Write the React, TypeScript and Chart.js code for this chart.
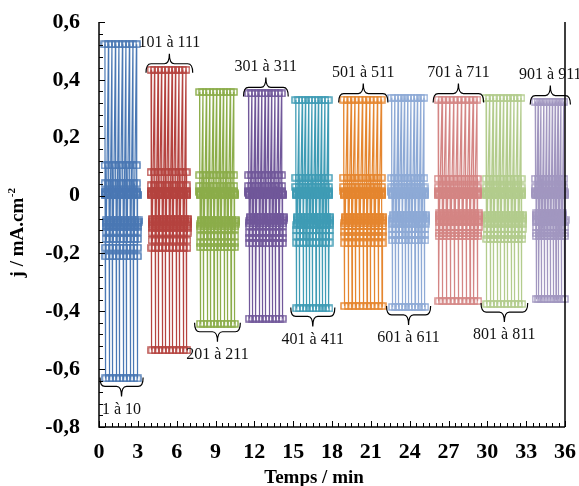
import React, { useEffect, useRef } from 'react';
import { Chart, registerables } from 'chart.js';

Chart.register(...registerables);

// ---- axis ticks ----
const xTickValues = [0, 3, 6, 9, 12, 15, 18, 21, 24, 27, 30, 33, 36];
const yTickLabels = ['-0,8', '-0,6', '-0,4', '-0,2', '0', '0,2', '0,4', '0,6'];
const xTitle = 'Temps / min';
const yTitleMain = 'j / mA.cm';
const yTitleSup = '-2';

// ---- cycle groups ----
const groupNames = ['1 à 10', '101 à 111', '201 à 211', '301 à 311', '401 à 411', '501 à 511', '601 à 611', '701 à 711', '801 à 811', '901 à 911'];
const labelAbove = [false, true, false, true, false, true, false, true, false, true];
const groupColors = ['#4a78b4', '#b5433f', '#8cad4a', '#71589a', '#3f9cb5', '#e5862f', '#8eaad6', '#d48584', '#b3cc8d', '#a297c0'];
const cycleCounts = [10, 11, 11, 11, 11, 11, 11, 11, 11, 11];
const groupStarts = [0.46, 4.02, 7.77, 11.55, 15.2, 18.9, 22.6, 26.2, 29.9, 33.7];
const cyclePeriods = [0.27, 0.27, 0.263, 0.255, 0.25, 0.29, 0.25, 0.3, 0.27, 0.22];

// time of each sample inside one pulse cycle (min)
const sampleOffsets = [0, 0.006, 0.012, 0.02, 0.028, 0.036, 0.044, 0.052, 0.06, 0.066, 0.072, 0.078, 0.084, 0.092, 0.1, 0.108, 0.116, 0.124, 0.132];

// current density (mA.cm-2) of each sample of one cycle, per group
const wave1to10 = [0.523, 0.104, 0.042, 0.015, 0.011, 0.008, 0.005, 0.003, 0.001, -0.632, -0.21, -0.18, -0.15, -0.125, -0.108, -0.1, -0.095, -0.09, -0.086];
const wave101to111 = [0.435, 0.08, 0.035, 0.015, 0.011, 0.008, 0.005, 0.003, 0.001, -0.535, -0.18, -0.155, -0.128, -0.112, -0.104, -0.097, -0.091, -0.086, -0.08];
const wave201to211 = [0.358, 0.07, 0.033, 0.015, 0.011, 0.008, 0.005, 0.003, 0.001, -0.443, -0.178, -0.163, -0.14, -0.115, -0.106, -0.099, -0.093, -0.088, -0.083];
const wave301to311 = [0.353, 0.07, 0.033, 0.015, 0.011, 0.008, 0.005, 0.003, 0.001, -0.425, -0.165, -0.145, -0.128, -0.105, -0.096, -0.089, -0.083, -0.078, -0.073];
const wave401to411 = [0.33, 0.062, 0.03, 0.015, 0.011, 0.008, 0.005, 0.003, 0.001, -0.39, -0.163, -0.14, -0.12, -0.103, -0.095, -0.089, -0.083, -0.078, -0.073];
const wave501to511 = [0.332, 0.062, 0.03, 0.015, 0.011, 0.008, 0.005, 0.003, 0.001, -0.382, -0.165, -0.14, -0.125, -0.105, -0.096, -0.089, -0.083, -0.078, -0.073];
const wave601to611 = [0.338, 0.06, 0.028, 0.015, 0.011, 0.008, 0.005, 0.003, 0.001, -0.385, -0.155, -0.135, -0.115, -0.097, -0.089, -0.082, -0.076, -0.071, -0.066];
const wave701to711 = [0.332, 0.058, 0.028, 0.015, 0.011, 0.008, 0.005, 0.003, 0.001, -0.365, -0.14, -0.13, -0.11, -0.092, -0.084, -0.077, -0.071, -0.066, -0.061];
const wave801to811 = [0.337, 0.058, 0.028, 0.015, 0.011, 0.008, 0.005, 0.003, 0.001, -0.375, -0.15, -0.135, -0.115, -0.097, -0.089, -0.082, -0.076, -0.071, -0.066];
const wave901to911 = [0.325, 0.058, 0.028, 0.015, 0.011, 0.008, 0.005, 0.003, 0.001, -0.358, -0.14, -0.13, -0.11, -0.092, -0.084, -0.077, -0.071, -0.066, -0.061];
const waveforms = [wave1to10, wave101to111, wave201to211, wave301to311, wave401to411, wave501to511, wave601to611, wave701to711, wave801to811, wave901to911];

const FONT = '"Liberation Serif", "Times New Roman", serif';

function buildPoints(g: number) {
  const pts: { x: number; y: number }[] = [];
  for (let c = 0; c < cycleCounts[g]; c++) {
    const t0 = groupStarts[g] + c * cyclePeriods[g];
    waveforms[g].forEach((v, i) => pts.push({ x: t0 + sampleOffsets[i], y: v }));
  }
  return pts;
}

function makeMarker(color: string) {
  const c = document.createElement('canvas');
  c.width = 9;
  c.height = 8;
  const ctx = c.getContext('2d')!;
  ctx.strokeStyle = color;
  ctx.lineWidth = 1.4;
  ctx.strokeRect(1, 1, 7, 6);
  return c;
}

function drawBrace(ctx: CanvasRenderingContext2D, x1: number, x2: number, yb: number, dir: number, h: number) {
  const xm = (x1 + x2) / 2;
  const q = Math.min(5, (x2 - x1) / 4);
  const e = h * 0.9;
  ctx.beginPath();
  ctx.moveTo(x1, yb - dir * e);
  ctx.quadraticCurveTo(x1, yb, x1 + q, yb);
  ctx.lineTo(xm - q, yb);
  ctx.quadraticCurveTo(xm, yb, xm, yb + dir * h);
  ctx.quadraticCurveTo(xm, yb, xm + q, yb);
  ctx.lineTo(x2 - q, yb);
  ctx.quadraticCurveTo(x2, yb, x2, yb - dir * e);
  ctx.stroke();
}

const overlayPlugin = {
  id: 'overlay',
  afterDraw(chart: any) {
    const { ctx, chartArea: a } = chart;
    const xs = chart.scales.x;
    const ys = chart.scales.y;
    ctx.save();
    // axes frame
    ctx.strokeStyle = '#000';
    ctx.lineWidth = 1.5;
    ctx.beginPath();
    ctx.moveTo(a.left, a.top);
    ctx.lineTo(a.left, a.bottom);
    ctx.lineTo(a.right, a.bottom);
    ctx.moveTo(a.right, a.top);
    ctx.lineTo(a.right, a.bottom);
    ctx.stroke();
    // inner ticks
    ctx.lineWidth = 1;
    ctx.beginPath();
    for (let i = 0; i <= 35; i++) {
      const py = Math.round(ys.getPixelForValue(-0.8 + i * 0.04)) + 0.5;
      const len = i % 5 === 0 ? 6 : 4;
      ctx.moveTo(a.left, py);
      ctx.lineTo(a.left + len, py);
    }
    for (let i = 0; i <= 72; i++) {
      const px = Math.round(xs.getPixelForValue(i * 0.5)) + 0.5;
      const len = i % 6 === 0 ? 6 : 4;
      ctx.moveTo(px, a.bottom);
      ctx.lineTo(px, a.bottom - len);
    }
    ctx.stroke();

    // braces and group labels
    ctx.lineWidth = 1.2;
    ctx.fillStyle = '#111';
    ctx.font = `16px ${FONT}`;
    ctx.textAlign = 'center';
    ctx.textBaseline = 'middle';
    groupNames.forEach((name, g) => {
      const first = groupStarts[g];
      const last = groupStarts[g] + (cycleCounts[g] - 1) * cyclePeriods[g] + sampleOffsets[sampleOffsets.length - 1];
      const x1 = xs.getPixelForValue(first) - 5;
      const x2 = xs.getPixelForValue(last) + 5;
      const xm = (x1 + x2) / 2;
      const w = waveforms[g];
      if (labelAbove[g]) {
        const top = ys.getPixelForValue(Math.max(...w));
        drawBrace(ctx, x1, x2, top - 6, -1, 10);
        ctx.fillText(name, xm, top - 27);
      } else {
        const bot = ys.getPixelForValue(Math.min(...w));
        drawBrace(ctx, x1, x2, bot + 8, 1, 10);
        ctx.fillText(name, xm, bot + 31);
      }
    });

    // axis titles
    ctx.fillStyle = '#000';
    ctx.font = `bold 19px ${FONT}`;
    ctx.fillText(xTitle, 314, 478);

    ctx.save();
    ctx.translate(18, 233);
    ctx.rotate(-Math.PI / 2);
    ctx.font = `bold 19px ${FONT}`;
    const w1 = ctx.measureText(yTitleMain).width;
    ctx.font = `bold 11px ${FONT}`;
    const w2 = ctx.measureText(yTitleSup).width;
    const start = -(w1 + w2) / 2;
    ctx.textAlign = 'left';
    ctx.font = `bold 19px ${FONT}`;
    ctx.fillText(yTitleMain, start, 0);
    ctx.font = `bold 11px ${FONT}`;
    ctx.fillText(yTitleSup, start + w1 + 0.5, -6);
    ctx.restore();

    ctx.restore();
  },
};

export default function App() {
  const ref = useRef<HTMLCanvasElement | null>(null);
  useEffect(() => {
    if (!ref.current) return;
    const datasets = groupNames.map((name, g) => ({
      label: name,
      data: buildPoints(g),
      showLine: true,
      borderColor: groupColors[g],
      borderWidth: 1.2,
      pointStyle: makeMarker(groupColors[g]),
      pointRadius: 4,
      pointBorderWidth: 1,
      pointBackgroundColor: 'transparent',
      pointBorderColor: groupColors[g],
      clip: false as any,
    }));
    const chart = new Chart(ref.current, {
      type: 'scatter',
      data: { datasets },
      options: {
        responsive: false,
        animation: false,
        events: [],
        layout: { padding: { top: 22, right: 14, bottom: 0, left: 0 } },
        plugins: { legend: { display: false }, tooltip: { enabled: false } },
        scales: {
          x: {
            type: 'linear',
            min: 0,
            max: 36,
            grid: { display: false, drawTicks: false },
            border: { display: false },
            ticks: {
              stepSize: 3,
              autoSkip: false,
              maxRotation: 0,
              padding: 12,
              color: '#000',
              font: { family: FONT, size: 22, weight: 'bold' },
              callback: (v: any) => (xTickValues.includes(Number(v)) ? String(v) : ''),
            },
            afterFit: (scale: any) => {
              scale.height = 59;
              scale.paddingLeft = 0;
              scale.paddingRight = 0;
            },
          },
          y: {
            type: 'linear',
            min: -0.8,
            max: 0.6,
            grid: { display: false, drawTicks: false },
            border: { display: false },
            ticks: {
              stepSize: 0.2,
              autoSkip: false,
              padding: 19,
              color: '#000',
              font: { family: FONT, size: 22, weight: 'bold' },
              callback: (v: any) => yTickLabels[Math.round((Number(v) + 0.8) / 0.2)] ?? '',
            },
            afterFit: (scale: any) => {
              scale.width = 99;
              scale.paddingTop = 0;
              scale.paddingBottom = 0;
            },
          },
        },
      },
      plugins: [overlayPlugin],
    });
    return () => chart.destroy();
  }, []);
  return (
    <canvas
      ref={ref}
      width={579}
      height={486}
      style={{ position: 'absolute', left: 0, top: 0, width: 579, height: 486 }}
    />
  );
}
